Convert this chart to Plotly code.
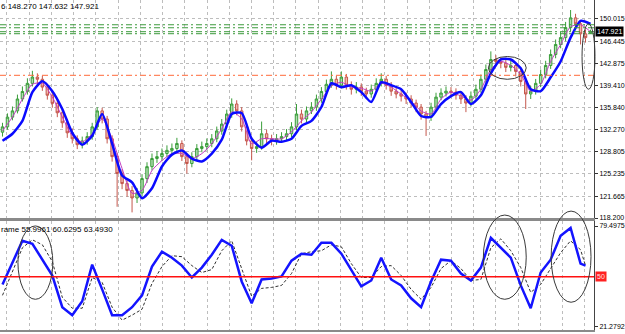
import plotly.graph_objects as go

# ---------------- data ----------------
opens = [131.9, 132.75, 134.3, 135.3, 137.2, 138.4, 139.7, 140.7, 140.35, 139.1,
         137.8, 136.5, 135.0, 133.4, 131.8, 130.85, 129.9, 130.5, 131.2, 132.75,
         135.3, 134.0, 130.85, 128.0, 125.3, 123.7, 122.6, 121.4, 122.2, 124.5,
         126.4, 127.7, 128.0, 128.5, 129.0, 129.3, 130.1, 128.0, 126.9, 128.0,
         129.3, 129.6, 130.1, 130.85, 132.1, 133.2, 134.8, 136.4, 135.3, 132.75,
         130.5, 129.3, 129.6, 131.65, 130.85, 130.5, 130.85, 131.2, 131.65, 132.75,
         134.8, 134.0, 135.3, 135.9, 137.2, 138.4, 139.55, 140.35, 139.4, 140.7,
         139.4, 138.75, 139.1, 138.45, 138.0, 138.75, 139.7, 140.35, 139.4, 138.45,
         138.0, 137.65, 137.2, 136.55, 135.9, 134.8, 134.3, 135.9, 137.5, 138.15,
         138.45, 138.3, 137.8, 137.2, 136.55, 137.65, 138.75, 140.35, 141.9, 143.5,
         143.2, 142.9, 142.25, 142.55, 141.6, 140.0, 138.0, 138.45, 139.7, 141.1,
         142.55, 144.3, 145.9, 147.0, 148.6, 150.15, 149.2, 147.6, 147.7]
highs = [133.4, 134.9, 136.0, 137.9, 139.2, 140.5, 141.7, 141.3, 140.9, 139.6,
         138.3, 137.1, 135.6, 134.0, 132.5, 131.4, 131.2, 131.9, 133.4, 135.9,
         135.8, 134.5, 131.4, 128.6, 126.0, 124.4, 123.3, 123.0, 125.2, 127.1,
         128.5, 128.9, 129.3, 129.8, 130.1, 131.0, 130.6, 128.5, 128.7, 130.0,
         130.4, 130.9, 131.6, 132.8, 134.0, 135.5, 137.3, 137.0, 135.9, 133.3,
         131.1, 130.4, 133.6, 132.3, 131.5, 131.6, 131.9, 132.4, 133.5, 136.4,
         135.5, 136.0, 136.7, 137.9, 139.1, 140.3, 141.6, 140.9, 141.6, 141.2,
         140.0, 139.9, 139.7, 139.0, 139.5, 140.5, 141.3, 140.9, 139.9, 139.0,
         138.6, 138.2, 137.8, 137.1, 136.4, 135.3, 136.6, 138.2, 138.9, 139.2,
         139.1, 138.9, 138.4, 137.8, 138.4, 139.5, 141.1, 142.7, 144.8, 144.2,
         143.8, 143.5, 143.3, 143.1, 142.1, 140.5, 139.3, 140.4, 141.9, 143.3,
         145.1, 146.7, 147.9, 149.5, 151.4, 150.8, 149.8, 148.3, 148.27]
lows = [131.2, 132.3, 133.8, 134.9, 136.8, 137.9, 139.2, 139.6, 138.5, 137.1,
        135.8, 134.3, 132.6, 131.0, 130.1, 129.2, 129.3, 129.9, 130.7, 132.3,
        133.3, 130.1, 127.2, 120.0, 122.8, 121.6, 119.1, 120.6, 121.6, 123.8,
        125.8, 127.0, 127.3, 127.9, 128.4, 128.8, 127.3, 125.3, 126.3, 127.5,
        128.7, 129.0, 129.5, 130.3, 131.5, 132.6, 134.2, 134.6, 132.0, 129.8,
        127.4, 128.6, 129.1, 130.1, 129.8, 129.9, 130.2, 130.6, 131.1, 132.2,
        133.3, 133.5, 134.8, 135.3, 136.6, 137.8, 139.0, 138.7, 138.9, 138.7,
        137.9, 138.1, 137.7, 137.2, 137.4, 138.2, 139.2, 138.7, 137.7, 137.3,
        136.8, 136.4, 135.8, 135.1, 133.9, 131.3, 133.7, 135.3, 137.0, 137.6,
        137.6, 137.1, 136.4, 135.1, 136.0, 137.1, 138.2, 139.8, 141.3, 142.4,
        142.1, 141.5, 141.6, 140.8, 139.2, 135.6, 137.2, 137.9, 139.1, 140.5,
        142.0, 143.7, 145.3, 146.4, 148.0, 148.5, 145.9, 146.2, 147.632]
closes = [132.75, 134.3, 135.3, 137.2, 138.4, 139.7, 140.7, 140.35, 139.1, 137.8,
          136.5, 135.0, 133.4, 131.8, 130.85, 129.9, 130.5, 131.2, 132.75, 135.3,
          134.0, 130.85, 128.0, 125.3, 123.7, 122.6, 121.4, 122.2, 124.5, 126.4,
          127.7, 128.0, 128.5, 129.0, 129.3, 130.1, 128.0, 126.9, 128.0, 129.3,
          129.6, 130.1, 130.85, 132.1, 133.2, 134.8, 136.4, 135.3, 132.75, 130.5,
          129.3, 129.6, 131.65, 130.85, 130.5, 130.85, 131.2, 131.65, 132.75, 134.8,
          134.0, 135.3, 135.9, 137.2, 138.4, 139.55, 140.35, 139.4, 140.7, 139.4,
          138.75, 139.1, 138.45, 138.0, 138.75, 139.7, 140.35, 139.4, 138.45, 138.0,
          137.65, 137.2, 136.55, 135.9, 134.8, 134.3, 135.9, 137.5, 138.15, 138.45,
          138.3, 137.8, 137.2, 136.55, 137.65, 138.75, 140.35, 141.9, 143.5, 143.2,
          142.9, 142.25, 142.55, 141.6, 140.0, 138.0, 138.45, 139.7, 141.1, 142.55,
          144.3, 145.9, 147.0, 148.6, 150.15, 149.2, 147.6, 147.0, 147.921]

# moving averages (every second bar)
ma_fast = [132.12, 134.33, 137.18, 139.55, 139.71, 137.50, 134.33, 131.33, 130.38, 131.65,
           134.02, 130.85, 126.11, 122.15, 122.63, 125.79, 127.37, 128.48, 128.48, 127.69,
           128.48, 130.06, 132.44, 135.13, 134.02, 130.06, 130.85, 130.85, 130.85, 131.96,
           133.70, 135.13, 137.18, 139.24, 139.87, 139.08, 138.92, 138.45, 139.71, 139.08,
           137.97, 136.87, 135.28, 134.81, 137.18, 138.29, 137.66, 137.02, 138.76, 141.93,
           143.19, 142.56, 141.14, 138.45, 139.55, 143.19, 145.88, 148.73, 149.05, 147.94]
ma_slow = [130.54, 131.65, 133.70, 138.29, 140.03, 138.45, 135.60, 131.80, 129.91, 131.33,
           134.81, 130.06, 125.00, 123.90, 121.36, 122.95, 126.43, 128.32, 128.96, 127.69,
           127.22, 128.48, 130.70, 134.81, 134.97, 130.85, 129.43, 130.54, 130.38, 130.85,
           132.91, 133.70, 135.92, 139.71, 139.08, 139.40, 138.29, 136.71, 139.87, 139.40,
           138.76, 136.71, 134.49, 134.33, 136.39, 137.66, 138.29, 136.39, 137.80, 141.29,
           143.51, 143.51, 142.09, 138.76, 138.45, 140.66, 143.19, 146.99, 149.68, 149.20]

# oscillator (sub panel)
osc_main = [45.53, 58.21, 70.90, 69.17, 59.94, 50.72, 32.28, 27.67, 35.74, 57.06,
            42.65, 27.67, 27.67, 32.28, 39.19, 55.91, 64.56, 61.10, 56.49, 49.57,
            55.33, 62.83, 71.47, 68.01, 47.26, 34.58, 48.42, 48.99, 50.15, 59.37,
            63.40, 62.83, 69.74, 69.74, 63.40, 53.60, 44.38, 47.84, 61.10, 48.42,
            44.96, 37.46, 32.28, 47.26, 59.94, 59.37, 51.87, 47.84, 55.33, 72.62,
            66.86, 61.10, 44.96, 31.70, 52.45, 59.94, 73.78, 78.39, 57.64, 56.49]
osc_signal = [39.19, 53.60, 66.86, 71.47, 68.59, 58.79, 38.04, 31.70, 31.70, 49.57,
              46.69, 32.28, 24.78, 27.67, 31.12, 46.11, 55.91, 62.25, 61.67, 56.49,
              52.45, 54.18, 65.13, 70.90, 54.18, 38.62, 43.23, 43.80, 44.96, 51.87,
              63.40, 64.56, 65.13, 68.59, 67.44, 57.64, 49.57, 49.57, 55.91, 56.49,
              50.72, 42.65, 36.89, 43.80, 54.76, 59.37, 54.76, 47.84, 48.42, 66.86,
              72.05, 65.13, 55.33, 40.92, 45.53, 54.76, 63.98, 70.90, 65.71, 56.49]
osc_level = 50

price_ticks = [150.015, 146.445, 142.875, 139.410, 135.840, 132.270, 128.805, 125.235, 121.665, 118.200]
price_ticktext = ["150.015", "146.445", "142.875", "139.410", "135.840", "132.270", "128.805", "125.235", "121.665", "118.200"]
osc_ticks = [79.4975, 21.2792]
osc_ticktext = ["79.4975", "21.2792"]
green_levels = [149.05, 148.57, 147.94, 147.62]
orange_level = 140.98
last_price = 147.921
header_text = "6 148.270 147.632 147.921"
sub_text = "rame 55.9961 60.6295 63.4930"

# ---------------- layout helpers ----------------
W, H = 625, 334
PLOT_W = 596
def px_x(p):
    return p / PLOT_W
def px_y(p):
    return 1 - p / H

N = len(closes)
idx = list(range(N))
ma_x = list(range(0, N, 2))
osc_x = list(range(0, 117, 2)) + [117]

FONT = "Liberation Sans"
fig = go.Figure()

fig.add_trace(go.Candlestick(
    x=idx, open=opens, high=highs, low=lows, close=closes,
    increasing=dict(line=dict(color="#3a9e3a", width=1), fillcolor="#b2dcb2"),
    decreasing=dict(line=dict(color="#c4574c", width=1), fillcolor="#f2b8b0"),
    whiskerwidth=0, xaxis="x", yaxis="y", showlegend=False))

fig.add_trace(go.Scatter(x=ma_x, y=ma_fast, mode="lines",
                         line=dict(color="#c23cc2", width=1, shape="spline", smoothing=0.7),
                         xaxis="x", yaxis="y", showlegend=False))
fig.add_trace(go.Scatter(x=ma_x, y=ma_slow, mode="lines",
                         line=dict(color="#0a0aff", width=2.5, shape="spline", smoothing=0.6),
                         xaxis="x", yaxis="y", showlegend=False))

fig.add_trace(go.Scatter(x=osc_x, y=osc_signal, mode="lines", line=dict(color="#303030", width=1, dash="3px,2px"),
                         xaxis="x2", yaxis="y2", showlegend=False))
fig.add_trace(go.Scatter(x=osc_x, y=osc_main, mode="lines", line=dict(color="#1414ff", width=2.5),
                         xaxis="x2", yaxis="y2", showlegend=False))

main_dom = [px_y(220), 1]
sub_dom = [px_y(332.5), px_y(222.5)]
xr = [-0.5, 118.7]
grid = dict(showgrid=True, gridcolor="#bdbdbd", griddash="3px,3px", gridwidth=1,
            tick0=0.9, dtick=4.46, showticklabels=False, ticks="", zeroline=False)

fig.update_layout(
    width=W, height=H, margin=dict(l=0, r=W - PLOT_W, t=0, b=0),
    paper_bgcolor="white", plot_bgcolor="white",
    font=dict(family=FONT, size=7, color="black"),
    xaxis=dict(domain=[0, 1], range=xr, anchor="y", rangeslider=dict(visible=False),
               showline=True, linecolor="#8a8a8a", linewidth=1.5, **grid),
    xaxis2=dict(domain=[0, 1], range=xr, anchor="y2", matches="x",
                showline=True, mirror=True, linecolor="#8a8a8a", linewidth=1.5, **grid),
    yaxis=dict(domain=main_dom, range=[118.2, 153.0], side="right", anchor="x",
               tickvals=price_ticks, ticktext=price_ticktext, ticks="outside", ticklen=3,
               tickcolor="#333", showline=True, linecolor="#444", linewidth=1,
               showgrid=True, gridcolor="#bdbdbd", griddash="3px,3px", zeroline=False,
               tickfont=dict(size=7, family=FONT)),
    yaxis2=dict(domain=sub_dom, range=[19.31, 82.71], side="right", anchor="x2",
                tickvals=osc_ticks, ticktext=osc_ticktext, ticks="outside", ticklen=3,
                tickcolor="#333", showline=True, linecolor="#444", linewidth=1,
                showgrid=False, zeroline=False, tickfont=dict(size=7, family=FONT)),
    hovermode=False,
)

shapes = []
for lv in green_levels:
    shapes.append(dict(type="line", xref="x domain", yref="y", x0=0, x1=1, y0=lv, y1=lv,
                       line=dict(color="#3c9a3c", width=1, dash="6px,3px,2px,3px")))
shapes.append(dict(type="line", xref="x domain", yref="y", x0=0, x1=1, y0=orange_level, y1=orange_level,
                   line=dict(color="#ff6a3a", width=1, dash="6px,3px,2px,3px")))
shapes.append(dict(type="line", xref="x2 domain", yref="y2", x0=0, x1=1, y0=osc_level, y1=osc_level,
                   line=dict(color="#ff1010", width=1.5)))
# hand-drawn ellipses
ellipses = [(490, 57, 528, 80), (584, 24, 597, 90), (18, 228, 53, 302), (485, 217, 528, 302), (553, 213, 593, 305)]
for (x0, y0, x1, y1) in ellipses:
    shapes.append(dict(type="circle", xref="paper", yref="paper", x0=px_x(x0), x1=px_x(x1),
                       y0=px_y(y1), y1=px_y(y0), line=dict(color="#3a3a3a", width=1)))
fig.update_layout(shapes=shapes)

fig.add_annotation(xref="paper", yref="paper", x=0, y=1, xanchor="left", yanchor="top",
                   text=header_text, showarrow=False, font=dict(size=8, family=FONT), xshift=-1, yshift=0)
fig.add_annotation(xref="paper", yref="paper", x=0, y=px_y(225), xanchor="left", yanchor="top",
                   text=sub_text, showarrow=False, font=dict(size=8, family=FONT), xshift=-1)
fig.add_annotation(xref="paper", yref="y", x=1, y=last_price, xanchor="left", yanchor="middle",
                   text=str(last_price), showarrow=False, bgcolor="black", font=dict(size=7, color="white", family=FONT),
                   xshift=1, borderpad=1)
fig.add_annotation(xref="paper", yref="y2", x=1, y=osc_level, xanchor="left", yanchor="middle",
                   text=str(osc_level), showarrow=False, bgcolor="#ff2020", font=dict(size=7, color="#ffe0e0", family=FONT),
                   xshift=1, borderpad=1)

fig.write_html("out.html")
